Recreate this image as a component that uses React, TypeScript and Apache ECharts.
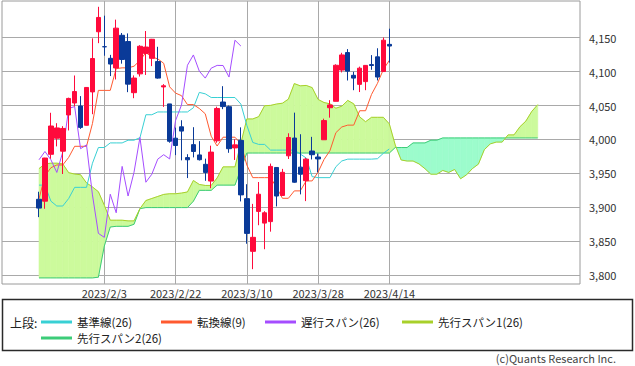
import React, { useEffect, useRef } from 'react';
import * as echarts from 'echarts';

const dates = [
  '2023/1/19','2023/1/20','2023/1/23','2023/1/24','2023/1/25','2023/1/26','2023/1/27','2023/1/30','2023/1/31',
  '2023/2/1','2023/2/2','2023/2/3','2023/2/6','2023/2/7','2023/2/8','2023/2/9','2023/2/10','2023/2/13','2023/2/14',
  '2023/2/15','2023/2/16','2023/2/17','2023/2/21','2023/2/22','2023/2/23','2023/2/24','2023/2/27','2023/2/28',
  '2023/3/1','2023/3/2','2023/3/3','2023/3/6','2023/3/7','2023/3/8','2023/3/9','2023/3/10','2023/3/13','2023/3/14',
  '2023/3/15','2023/3/16','2023/3/17','2023/3/20','2023/3/21','2023/3/22','2023/3/23','2023/3/24','2023/3/27',
  '2023/3/28','2023/3/29','2023/3/30','2023/3/31','2023/4/3','2023/4/4','2023/4/5','2023/4/6','2023/4/10',
  '2023/4/11','2023/4/12','2023/4/13','2023/4/14'
];

const opens = [
  3911.84, 3909.04, 3978.14, 4001.74, 3982.71, 4036.08, 4053.72, 4049.27, 4020.85, 4070.07,
  4158.68, 4136.69, 4119.57, 4105.35, 4153.47, 4144.25, 4068.92, 4096.62, 4126.70, 4119.50,
  4114.75, 4077.39, 4052.35, 4001.83, 4018.60, 3973.24, 3992.36, 3977.19, 3963.34, 3938.68,
  3998.02, 4055.15, 4048.26, 3987.55, 3998.66, 3912.77, 3835.12, 3894.01, 3876.74, 3878.93,
  3958.69, 3917.47, 3975.89, 4002.04, 3959.21, 3939.21, 3982.93, 3974.13, 3999.53, 4046.74,
  4056.18, 4102.20, 4128.03, 4094.50, 4081.15, 4085.20, 4110.29, 4121.72, 4100.04, 4140.11
];
const closes = [
  3898.85, 3972.61, 4019.81, 4016.95, 4016.22, 4060.43, 4070.56, 4017.77, 4076.60, 4119.21,
  4179.76, 4136.48, 4111.08, 4164.00, 4117.86, 4081.50, 4090.46, 4137.29, 4136.13, 4147.60,
  4090.41, 4079.09, 3997.34, 3991.05, 4012.32, 3970.04, 3982.24, 3970.15, 3951.39, 3981.35,
  4045.64, 4048.42, 3986.37, 3992.01, 3918.32, 3861.59, 3855.76, 3919.29, 3891.93, 3960.28,
  3916.64, 3951.57, 4002.87, 3936.97, 3948.72, 3970.99, 3977.53, 3971.27, 4027.81, 4050.83,
  4109.31, 4124.51, 4100.60, 4090.38, 4105.02, 4109.11, 4108.94, 4091.95, 4146.22, 4137.64
];
const lows = [
  3885.54, 3897.86, 3971.64, 3989.79, 3949.06, 4013.29, 4048.70, 4015.55, 4020.44, 4037.20,
  4141.88, 4123.36, 4093.38, 4088.39, 4111.67, 4069.67, 4060.79, 4092.67, 4095.01, 4108.05,
  4089.59, 4047.95, 3995.19, 3976.90, 3969.19, 3943.08, 3973.55, 3968.98, 3939.05, 3928.16,
  3995.17, 4044.61, 3980.31, 3969.76, 3908.70, 3846.32, 3808.86, 3873.63, 3838.24, 3864.11,
  3901.27, 3916.89, 3971.19, 3936.17, 3919.05, 3909.16, 3970.49, 3951.53, 3999.53, 4032.10,
  4056.18, 4098.79, 4086.87, 4072.56, 4069.84, 4072.55, 4102.61, 4086.94, 4099.40, 4113.20
];
const highs = [
  3922.94, 3972.96, 4039.31, 4023.92, 4019.55, 4061.57, 4094.21, 4063.85, 4077.16, 4148.95,
  4195.44, 4182.36, 4124.63, 4176.54, 4156.85, 4156.23, 4094.36, 4138.90, 4159.77, 4148.11,
  4136.54, 4081.51, 4052.35, 4017.37, 4028.30, 3978.25, 4018.05, 3997.50, 3971.73, 3990.84,
  4048.29, 4078.49, 4050.00, 4000.41, 4017.81, 3934.05, 3905.05, 3937.29, 3894.26, 3964.46,
  3958.91, 3956.62, 4009.08, 4039.49, 4007.66, 3972.74, 4003.83, 3979.20, 4030.59, 4057.85,
  4110.75, 4127.66, 4133.13, 4099.69, 4107.32, 4109.50, 4124.26, 4134.37, 4150.26, 4163.19
];

// 基準線(26)
const kijun = [
  3932.7, 3932.7, 3909.1, 3901.9, 3901.9, 3913.0, 3929.4, 3929.4, 3929.4, 3964.9,
  3988.1, 3988.1, 3994.9, 3994.9, 3994.9, 3998.9, 3998.9, 4002.5, 4036.4, 4036.4,
  4040.5, 4040.5, 4040.5, 4040.5, 4040.5, 4040.5, 4046.7, 4069.3, 4067.2, 4061.8,
  4061.8, 4061.8, 4061.8, 4061.8, 4052.1, 4020.9, 3995.6, 3992.7, 3992.7, 3984.3,
  3984.3, 3984.3, 3984.3, 3984.3, 3978.5, 3972.7, 3945.2, 3943.7, 3943.7, 3943.7,
  3959.8, 3968.3, 3971.0, 3971.0, 3971.0, 3971.0, 3971.0, 3971.6, 3979.6, 3986.0
];
// 転換線(9)
const tenkan = [
  3912.5, 3946.3, 3958.3, 3962.4, 3962.4, 3973.6, 3989.9, 3989.9, 3989.9, 4023.4,
  4072.3, 4072.3, 4072.3, 4104.4, 4105.5, 4105.5, 4107.9, 4116.3, 4128.1, 4121.6,
  4118.7, 4112.2, 4077.5, 4068.3, 4064.5, 4051.4, 4051.4, 4045.6, 4037.8, 4004.8,
  3990.3, 4003.3, 4003.3, 4003.3, 3993.6, 3962.4, 3943.7, 3943.7, 3943.7, 3943.7,
  3929.4, 3913.3, 3913.3, 3924.2, 3924.2, 3938.9, 3938.9, 3951.8, 3970.4, 3983.5,
  4010.0, 4018.4, 4021.1, 4021.1, 4042.3, 4042.3, 4066.3, 4082.6, 4103.2, 4116.5
];
// 遅行スパン(26)
const chikou = [
  3970.04, 3982.24, 3970.15, 3951.39, 3981.35, 4045.64, 4048.42, 3986.37, 3992.01, 3918.32,
  3861.59, 3855.76, 3919.29, 3891.93, 3960.28, 3916.64, 3951.57, 4002.87, 3936.97, 3948.72,
  3970.99, 3977.53, 3971.27, 4027.81, 4050.83, 4109.31, 4124.51, 4100.60, 4090.38, 4105.02,
  4109.11, 4108.94, 4091.95, 4146.22, 4137.64
];
// 先行スパン1(26)
const spanA = [
  3957, 3964, 3965, 3965, 3964, 3951, 3949, 3948, 3936, 3930,
  3923, 3903, 3881, 3881, 3881, 3880, 3880, 3898, 3910, 3913,
  3916, 3919, 3920, 3920, 3921, 3922.6, 3939.5, 3933.7, 3932.2, 3932.2,
  3943.3, 3959.6, 3959.6, 3959.6, 3994.2, 4030.2, 4030.2, 4033.6, 4049.7, 4050.2,
  4052.2, 4053.4, 4059.4, 4082.3, 4079.0, 4079.6, 4076.4, 4059.0, 4054.4, 4052.5,
  4046.0, 4049.0, 4057.5, 4052.5, 4033.3, 4026.1, 4032.6, 4032.6, 4032.6, 4022.9,
  3991.7, 3969.7, 3968.2, 3968.2, 3964.0, 3956.9, 3948.8, 3948.8, 3954.3, 3951.4,
  3955.8, 3942.1, 3947.8, 3957.1, 3963.6, 3984.9, 3993.4, 3996.1, 3996.1, 4006.7,
  4006.7, 4018.7, 4027.1, 4041.4, 4051.3
];
// 先行スパン2(26)
const spanB = [
  3796, 3796, 3796, 3796, 3796, 3796, 3796, 3796, 3796, 3796,
  3797, 3843, 3871, 3872, 3872, 3872, 3875, 3898, 3899.6, 3899.6,
  3899.6, 3899.6, 3899.6, 3899.6, 3899.6, 3899.6, 3909, 3925, 3925, 3925,
  3932.7, 3932.7, 3932.7, 3932.7, 3956.7, 3980, 3980, 3980, 3980, 3980,
  3980, 3980, 3980, 3980, 3980, 3980, 3980, 3980, 3980, 3980,
  3980, 3980, 3980, 3980, 3980, 3980, 3980, 3980, 3980, 3980,
  3988.1, 3988.1, 3988.1, 3994.9, 3994.9, 3994.9, 3998.9, 3998.9, 4002.2, 4002.2,
  4002.2, 4002.2, 4002.2, 4002.2, 4002.2, 4002.2, 4002.2, 4002.2, 4002.2, 4002.2,
  4002.2, 4002.2, 4002.2, 4002.2, 4002.2
];

const yTicks = [3800, 3850, 3900, 3950, 4000, 4050, 4100, 4150];
const xLabelDates = ['2023/2/3', '2023/2/22', '2023/3/10', '2023/3/28', '2023/4/14'];
const seriesNames = ['基準線(26)', '転換線(9)', '遅行スパン(26)', '先行スパン1(26)', '先行スパン2(26)'];

const FONT = '"Noto Sans CJK JP", "Noto Sans", sans-serif';
const C_UP = '#ff0a3c';
const C_DOWN = '#0a3a98';
const C_KIJUN = '#38d0d4';
const C_TENKAN = '#ff5a30';
const C_CHIKOU = '#a54dff';
const C_SPAN1 = '#a8d02a';
const C_SPAN2 = '#3ccc78';
const FILL_1 = '#ccfa9c';
const FILL_2 = '#9cfccc';
const GRIDC = '#a9a9a9';

const Y_MIN = 3787;
const Y_MAX = 4204;
const EXTRA_SLOTS = 6;

function fmt(v: number) {
  const th = Math.floor(v / 1000);
  const rest = String(Math.round(v % 1000)).padStart(3, '0');
  return th + ',' + rest;
}

export default function App() {
  const ref = useRef<HTMLDivElement>(null);
  useEffect(() => {
    const chart = echarts.init(ref.current!, null, { renderer: 'svg' });
    const nCat = spanA.length + EXTRA_SLOTS;
    const categories: string[] = [];
    for (let i = 0; i < nCat; i++) categories.push(i < dates.length ? dates[i] : 'f' + i);
    const showAt = (_idx: number, val: string) => xLabelDates.indexOf(val) >= 0;

    const candleData = dates.map((_, i) => [opens[i], closes[i], lows[i], highs[i]]);
    const cloudData: number[][] = [];
    for (let k = 0; k < spanA.length - 1; k++) {
      cloudData.push([k, spanA[k], spanB[k], spanA[k + 1], spanB[k + 1]]);
    }

    const step = 5.9375;
    const gridLeft = 39;
    const gridWidth = (nCat - 1) * step;

    const lineSeries = (name: string, data: number[], color: string, z: number) => ({
      name, type: 'line', xAxisIndex: 1, yAxisIndex: 1, data, color,
      showSymbol: false, symbol: 'none', z,
      lineStyle: { color, width: 1 }, emphasis: { disabled: true }, clip: false,
    });

    const legendPos = [
      { left: 41, top: 314 }, { left: 161, top: 314 }, { left: 265, top: 314 },
      { left: 402, top: 314 }, { left: 41, top: 330 },
    ];

    const option: any = {
      animation: false,
      textStyle: { fontFamily: FONT },
      grid: [
        { left: 2, top: 1, width: 578, height: 283, show: true, borderColor: '#9a9a9a', borderWidth: 1, backgroundColor: '#fff' },
        { left: gridLeft, top: 1, width: gridWidth, height: 283 },
      ],
      xAxis: [
        { gridIndex: 0, type: 'value', min: 0, max: 1, show: false },
        {
          gridIndex: 1, type: 'category', data: categories, boundaryGap: false,
          axisLine: { show: false }, axisTick: { show: false },
          axisLabel: { interval: showAt, margin: 3, color: '#333', fontSize: 11, fontFamily: FONT },
          splitLine: { show: true, interval: showAt, lineStyle: { color: GRIDC, width: 1 } },
        },
      ],
      yAxis: [
        {
          gridIndex: 0, type: 'value', position: 'right', min: Y_MIN, max: Y_MAX, splitNumber: 8,
          axisLine: { show: false },
          axisTick: { show: true, length: 5, lineStyle: { color: GRIDC }, customValues: yTicks },
          axisLabel: { customValues: yTicks, formatter: (v: number) => fmt(v), color: '#333', fontSize: 11, margin: 9, fontFamily: FONT },
          splitLine: { show: true, lineStyle: { color: GRIDC, width: 1 } },
        },
        { gridIndex: 1, type: 'value', min: Y_MIN, max: Y_MAX, show: false },
      ],
      legend: seriesNames.map((name, i) => ({
        data: [name], left: legendPos[i].left, top: legendPos[i].top, padding: 0,
        icon: 'rect', itemWidth: 31, itemHeight: 3, selectedMode: false,
        textStyle: { fontSize: 11.5, color: '#222', fontFamily: FONT, lineHeight: 16 },
      })),
      graphic: [
        { type: 'rect', shape: { x: 2.5, y: 299.5, width: 630, height: 51 }, style: { fill: 'none', stroke: '#2a2a2a', lineWidth: 1.5 } },
        { type: 'text', x: 10, y: 322, style: { text: '上段:', fill: '#222', fontSize: 12, fontFamily: FONT, verticalAlign: 'middle' } },
        { type: 'text', x: 616, y: 358, style: { text: '(c)Quants Research Inc.', fill: '#444', fontSize: 11, fontFamily: FONT, align: 'right', verticalAlign: 'middle' } },
      ],
      series: [
        {
          type: 'custom', name: 'cloud', xAxisIndex: 1, yAxisIndex: 1, z: 1, clip: false,
          data: cloudData, encode: { x: 0, y: [1, 2, 3, 4] },
          renderItem: (_params: any, api: any) => {
            const k = api.value(0);
            const a0 = api.value(1), b0 = api.value(2), a1 = api.value(3), b1 = api.value(4);
            const pA0 = api.coord([k, a0]);
            const pB0 = api.coord([k, b0]);
            const pA1 = api.coord([k + 1, a1]);
            const pB1 = api.coord([k + 1, b1]);
            const d0 = a0 - b0, d1 = a1 - b1;
            const poly = (pts: number[][], fill: string) => ({
              type: 'polygon', shape: { points: pts }, style: { fill, stroke: fill, lineWidth: 0.6 },
            });
            const children: any[] = [];
            if (d0 * d1 >= 0) {
              children.push(poly([pA0, pA1, pB1, pB0], d0 + d1 >= 0 ? FILL_1 : FILL_2));
            } else {
              const t = d0 / (d0 - d1);
              const P = [pA0[0] + t * (pA1[0] - pA0[0]), pA0[1] + t * (pA1[1] - pA0[1])];
              children.push(poly([pA0, P, pB0], d0 > 0 ? FILL_1 : FILL_2));
              children.push(poly([P, pA1, pB1], d1 > 0 ? FILL_1 : FILL_2));
            }
            return { type: 'group', children };
          },
        },
        lineSeries(seriesNames[4], spanB, C_SPAN2, 2),
        lineSeries(seriesNames[3], spanA, C_SPAN1, 2),
        lineSeries(seriesNames[0], kijun, C_KIJUN, 3),
        lineSeries(seriesNames[1], tenkan, C_TENKAN, 3),
        lineSeries(seriesNames[2], chikou, C_CHIKOU, 3),
        {
          type: 'candlestick', name: 'price', xAxisIndex: 1, yAxisIndex: 1, z: 5, clip: false,
          data: candleData, barWidth: 5,
          itemStyle: { color: C_UP, color0: C_DOWN, borderColor: C_UP, borderColor0: C_DOWN, borderWidth: 1 },
          emphasis: { disabled: true },
        },
      ],
    };
    chart.setOption(option);
    return () => chart.dispose();
  }, []);
  return <div ref={ref} style={{ position: 'absolute', left: 0, top: 0, width: 635, height: 366, background: '#fff' }} />;
}
